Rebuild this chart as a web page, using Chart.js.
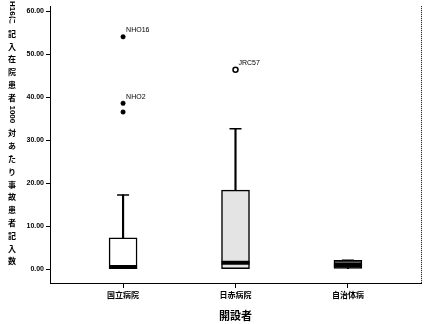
<!DOCTYPE html>
<html>
<head>
<meta charset="utf-8">
<script src="https://cdn.jsdelivr.net/npm/chart.js@4/dist/chart.umd.min.js"></script>
<style>
  html, body { margin: 0; padding: 0; background: #fff; }
  #wrap { width: 426px; height: 324px; }
</style>
</head>
<body>
<div id="wrap"><canvas id="boxChart" width="426" height="324"></canvas></div>
<script>
// categories and box statistics
const categories = ["国立病院", "日赤病院", "自治体病"];
const whiskerMin = [0, 0, 0];
const q1 = [0, 0, 0.2];
const median = [0.5, 1.5, 1.0];
const q3 = [7.3, 18.4, 2.1];
const whiskerMax = [17.3, 32.7, 2.1];
const boxFills = ["#ffffff", "#e4e4e4", "#5a5a5a"];

// extreme values (*) and outliers (o)
const extremeX = [0, 0, 0];
const extremeY = [54.1, 38.6, 36.6];
const extremeLabels = ["NHO16", "NHO2", ""];
const outlierX = [1];
const outlierY = [46.4];
const outlierLabels = ["JRC57"];

const yTicks = [0, 10, 20, 30, 40, 50, 60];
const yTitle = ["H16に", "記", "入", "在", "院", "患", "者", "1000", "対", "あ", "た", "り", "事", "故", "患", "者", "記", "入", "数"];
const xTitle = "開設者";

const latinFont = "'Liberation Sans', Arial, sans-serif";
const cjkFont = "'Noto Sans CJK JP', 'Noto Sans', sans-serif";

const idx = categories.map((c, i) => i);

// ===== point labels (case names next to outliers) =====
const pointLabels = {
  id: "pointLabels",
  afterDatasetsDraw(chart) {
    const ctx = chart.ctx;
    ctx.save();
    ctx.fillStyle = "#000";
    ctx.font = "7px " + latinFont;
    ctx.textBaseline = "bottom";
    chart.data.datasets.forEach((ds, di) => {
      if (!ds.caseLabels) return;
      chart.getDatasetMeta(di).data.forEach((pt, i) => {
        const txt = ds.caseLabels[i];
        if (txt) ctx.fillText(txt, pt.x + 3, pt.y - 3);
      });
    });
    ctx.restore();
  }
};

// ===== frame: dotted right edge + vertical y title =====
const frame = {
  id: "frame",
  afterDraw(chart) {
    const { ctx, chartArea } = chart;
    ctx.save();
    ctx.strokeStyle = "#000";
    ctx.lineWidth = 1;
    ctx.setLineDash([1, 1]);
    ctx.beginPath();
    ctx.moveTo(chartArea.right + 0.5, chartArea.top);
    ctx.lineTo(chartArea.right + 0.5, chartArea.bottom);
    ctx.stroke();
    ctx.setLineDash([]);

    // stacked title: CJK upright, latin runs turned
    ctx.fillStyle = "#000";
    ctx.textAlign = "center";
    ctx.textBaseline = "middle";
    let y = 1;
    yTitle.forEach(part => {
      if (/^[A-Za-z0-9]/.test(part)) {
        ctx.font = "bold 8px " + latinFont;
        const w = ctx.measureText(part).width;
        ctx.save();
        ctx.translate(12, y + w / 2);
        ctx.rotate(Math.PI / 2);
        ctx.fillText(part, 0, 0);
        ctx.restore();
        y += w + 5;
      } else {
        ctx.font = "bold 8px " + cjkFont;
        ctx.fillText(part, 12, y + 5);
        y += 12.8;
      }
    });
    ctx.restore();
  }
};

new Chart(document.getElementById("boxChart"), {
  type: "bar",
  data: {
    datasets: [
      {
        // whisker stems
        data: idx.map(i => ({ x: i, y: [whiskerMin[i], whiskerMax[i]] })),
        backgroundColor: "#000",
        barThickness: 1.5,
        grouped: false,
        order: 4
      },
      {
        // boxes
        data: idx.map(i => ({ x: i, y: [q1[i], q3[i]] })),
        backgroundColor: boxFills,
        borderColor: "#000",
        borderWidth: 1.5,
        borderSkipped: false,
        barThickness: 28,
        grouped: false,
        order: 3
      },
      {
        // whisker caps
        type: "line",
        data: idx.map(i => ({ x: i, y: whiskerMax[i] })),
        showLine: false,
        pointStyle: "line",
        pointRadius: 6,
        borderColor: "#000",
        borderWidth: 1.5,
        order: 2
      },
      {
        // medians
        type: "line",
        data: idx.map(i => ({ x: i, y: median[i] })),
        showLine: false,
        pointStyle: "line",
        pointRadius: 14,
        borderColor: "#000",
        borderWidth: 4,
        order: 1
      },
      {
        // extremes
        type: "line",
        data: extremeX.map((x, i) => ({ x: x, y: extremeY[i] })),
        caseLabels: extremeLabels,
        showLine: false,
        pointStyle: "star",
        pointRadius: 2.5,
        borderColor: "#000",
        backgroundColor: "#000",
        borderWidth: 1.5,
        order: 0
      },
      {
        // outliers
        type: "line",
        data: outlierX.map((x, i) => ({ x: x, y: outlierY[i] })),
        caseLabels: outlierLabels,
        showLine: false,
        pointStyle: "circle",
        pointRadius: 2.5,
        borderColor: "#000",
        backgroundColor: "#fff",
        borderWidth: 1.5,
        order: 0
      }
    ]
  },
  options: {
    responsive: false,
    animation: false,
    events: [],
    layout: { autoPadding: false, padding: { left: 0, right: 5, top: 0, bottom: 0 } },
    plugins: {
      legend: { display: false },
      tooltip: { enabled: false }
    },
    scales: {
      x: {
        type: "linear",
        offset: false,
        min: -0.65,
        max: 2.65,
        afterBuildTicks: s => { s.ticks = idx.map(v => ({ value: v })); },
        afterFit: s => { s.height = 41; },
        ticks: {
          callback: v => categories[v],
          color: "#000",
          font: { family: cjkFont, size: 8, weight: "bold" },
          padding: 2,
          maxRotation: 0
        },
        grid: { offset: false, drawOnChartArea: false, tickLength: 5, color: "#000" },
        border: { color: "#000", width: 1 },
        title: {
          display: true,
          text: xTitle,
          color: "#000",
          font: { family: cjkFont, size: 11, weight: "bold" },
          padding: { top: 0, bottom: 2 }
        }
      },
      y: {
        min: -3.2,
        max: 61.2,
        afterBuildTicks: s => { s.ticks = yTicks.map(v => ({ value: v })); },
        afterFit: s => { s.width = 50; },
        ticks: {
          callback: v => v.toFixed(2),
          color: "#000",
          font: { family: latinFont, size: 7, weight: "bold" },
          padding: 2
        },
        grid: { drawOnChartArea: false, tickLength: 4, color: "#000" },
        border: { color: "#000", width: 1 }
      }
    }
  },
  plugins: [pointLabels, frame]
});
</script>
</body>
</html>
